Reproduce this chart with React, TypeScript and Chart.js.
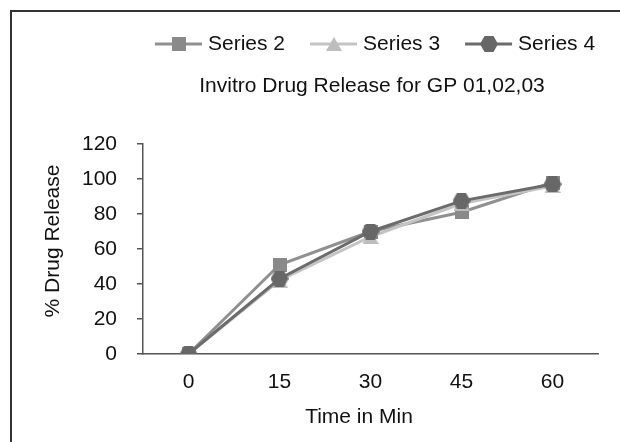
import React, { useEffect, useRef } from "react";
import { Chart, registerables } from "chart.js";

Chart.register(...registerables);

const categories = ["0", "15", "30", "45", "60"];
const series2 = [0, 51, 70, 81, 98];
const series3 = [0, 42, 67, 86, 96];
const series4 = [0, 43, 70, 87.5, 97];
const seriesLabels = ["Series 2", "Series 3", "Series 4"];
const yMin = 0;
const yMax = 120;
const yStep = 20;
const chartTitle = "Invitro Drug Release for GP 01,02,03";
const yTitle = "% Drug Release";
const xTitle = "Time in Min";

const FONT = '"Liberation Sans", Arial, sans-serif';
const TEXT = "#111";

function makeMarker(shape: string, fill: string): HTMLCanvasElement {
  const c = document.createElement("canvas");
  const ctx = c.getContext("2d")!;
  if (shape === "square") {
    c.width = 14;
    c.height = 14;
    ctx.fillStyle = fill;
    ctx.fillRect(0, 0, 14, 14);
  } else if (shape === "triangle") {
    c.width = 16;
    c.height = 14;
    ctx.fillStyle = fill;
    ctx.beginPath();
    ctx.moveTo(8, 0);
    ctx.lineTo(16, 14);
    ctx.lineTo(0, 14);
    ctx.closePath();
    ctx.fill();
  } else {
    c.width = 18;
    c.height = 16;
    ctx.fillStyle = fill;
    ctx.beginPath();
    ctx.moveTo(0, 8);
    ctx.lineTo(4.5, 0);
    ctx.lineTo(13.5, 0);
    ctx.lineTo(18, 8);
    ctx.lineTo(13.5, 16);
    ctx.lineTo(4.5, 16);
    ctx.closePath();
    ctx.fill();
  }
  return c;
}

const textPlugin = {
  id: "textPlugin",
  afterDraw(chart: any) {
    const ctx = chart.ctx as CanvasRenderingContext2D;
    ctx.save();
    ctx.fillStyle = TEXT;
    ctx.font = `21px ${FONT}`;
    ctx.textBaseline = "middle";
    ctx.textAlign = "center";
    ctx.fillText(chartTitle, 372, 86);
    ctx.fillText(xTitle, 359, 417);
    ctx.save();
    ctx.translate(53, 241);
    ctx.rotate(-Math.PI / 2);
    ctx.fillText(yTitle, 0, 0);
    ctx.restore();

    // legend
    let x = 155;
    const y = 44;
    ctx.textAlign = "left";
    chart.data.datasets.forEach((ds: any) => {
      ctx.strokeStyle = ds.borderColor;
      ctx.lineWidth = 3;
      ctx.beginPath();
      ctx.moveTo(x, y);
      ctx.lineTo(x + 47, y);
      ctx.stroke();
      const img = ds.pointStyle as HTMLCanvasElement;
      ctx.drawImage(img, Math.round(x + 23.5 - img.width / 2), Math.round(y - img.height / 2));
      ctx.fillStyle = TEXT;
      ctx.fillText(ds.label, x + 53, y);
      x += 53 + ctx.measureText(ds.label).width + 25;
    });
    ctx.restore();
  },
};

export default function App() {
  const ref = useRef<HTMLCanvasElement>(null);
  useEffect(() => {
    document.body.style.margin = "0";
    const sq = makeMarker("square", "#8a8a8a");
    const tri = makeMarker("triangle", "#bdbdbd");
    const hex = makeMarker("hexagon", "#676767");
    const chart = new Chart(ref.current!, {
      type: "line",
      data: {
        labels: categories,
        datasets: [
          {
            label: seriesLabels[0],
            data: series2,
            borderColor: "#909090",
            backgroundColor: "#8a8a8a",
            borderWidth: 3,
            pointStyle: sq as any,
            pointRadius: 7,
            order: 3,
          },
          {
            label: seriesLabels[1],
            data: series3,
            borderColor: "#c4c4c4",
            backgroundColor: "#bdbdbd",
            borderWidth: 3,
            pointStyle: tri as any,
            pointRadius: 7,
            order: 2,
          },
          {
            label: seriesLabels[2],
            data: series4,
            borderColor: "#6b6b6b",
            backgroundColor: "#676767",
            borderWidth: 3,
            pointStyle: hex as any,
            pointRadius: 8,
            order: 1,
          },
        ],
      },
      options: {
        responsive: false,
        animation: false,
        devicePixelRatio: 1,
        layout: { padding: { top: 144, right: 22, left: 0, bottom: 0 } },
        plugins: {
          legend: { display: false },
          title: { display: false },
          tooltip: { enabled: false },
        },
        elements: { line: { tension: 0 } },
        scales: {
          x: {
            type: "category",
            offset: true,
            grid: { display: false, drawTicks: false },
            border: { display: true, color: "#555", width: 1.5 },
            ticks: {
              padding: 16,
              color: TEXT,
              font: { family: FONT, size: 21 },
            },
            afterFit: (scale: any) => {
              scale.height = 88;
            },
          },
          y: {
            min: yMin,
            max: yMax,
            ticks: {
              stepSize: yStep,
              padding: 20,
              color: TEXT,
              font: { family: FONT, size: 21 },
            },
            grid: {
              display: true,
              drawOnChartArea: false,
              drawTicks: true,
              tickLength: 6,
              color: "#555",
              lineWidth: 1.5,
            },
            border: { display: true, color: "#555", width: 1.5 },
            afterFit: (scale: any) => {
              scale.width = 143;
            },
          },
        },
      },
      plugins: [textPlugin],
    });
    return () => chart.destroy();
  }, []);
  return (
    <div style={{ position: "relative", width: 620, height: 442, background: "#fff", overflow: "hidden" }}>
      <div
        style={{
          position: "absolute",
          left: 10,
          top: 10,
          width: 620,
          height: 440,
          borderTop: "2px solid #333",
          borderLeft: "2px solid #333",
          boxSizing: "border-box",
        }}
      />
      <canvas
        ref={ref}
        width={620}
        height={442}
        style={{ position: "absolute", left: 0, top: 0, width: 620, height: 442 }}
      />
    </div>
  );
}
